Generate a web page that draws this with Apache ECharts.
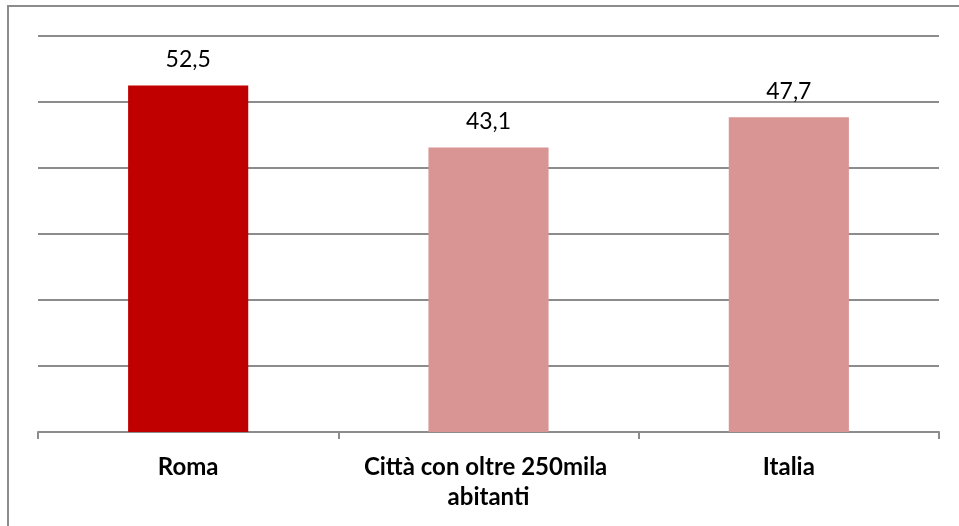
<!DOCTYPE html>
<html>
<head>
<meta charset="utf-8">
<script src="https://cdn.jsdelivr.net/npm/echarts@6/dist/echarts.min.js"></script>
<style>
  html, body { margin: 0; padding: 0; background: #fff; }
  #chart { width: 959px; height: 526px; }
</style>
</head>
<body>
<div id="chart"></div>
<script>
var categories = ['Roma', 'Città con oltre 250mila abitanti', 'Italia'];
var values = [52.5, 43.1, 47.7];
var barColors = ['#C00000', '#D99594', '#D99594'];

var chart = echarts.init(document.getElementById('chart'));

var option = {
  animation: false,
  backgroundColor: '#fff',
  graphic: [{
    type: 'rect',
    shape: { x: 8, y: 6, width: 960, height: 530 },
    style: { fill: 'none', stroke: '#8c8c8c', lineWidth: 2 },
    silent: true
  }],
  grid: { left: 38, right: 20, top: 36, bottom: 94 },
  xAxis: {
    type: 'category',
    data: categories,
    axisLine: { lineStyle: { color: '#8c8c8c', width: 2 } },
    axisTick: { show: true, interval: 0, length: 7, lineStyle: { color: '#8c8c8c', width: 2 } },
    axisLabel: {
      interval: 0,
      color: '#000',
      fontFamily: 'Lato',
      fontWeight: 'bold',
      fontSize: 24,
      margin: 20,
      lineHeight: 30,
      width: 295,
      overflow: 'break'
    }
  },
  yAxis: {
    type: 'value',
    min: 0,
    max: 60,
    interval: 10,
    axisLabel: { show: false },
    axisLine: { show: false },
    axisTick: { show: false },
    splitLine: { lineStyle: { color: '#8c8c8c', width: 2 } }
  },
  series: [{
    type: 'bar',
    barWidth: '40%',
    data: values.map(function (v, i) {
      return { value: v, itemStyle: { color: barColors[i] } };
    }),
    label: {
      show: true,
      position: 'top',
      distance: 14,
      color: '#000',
      fontFamily: 'Lato',
      fontSize: 23,
      formatter: function (p) {
        return String(p.value).replace('.', ',');
      }
    }
  }]
};

chart.setOption(option);
</script>
</body>
</html>
